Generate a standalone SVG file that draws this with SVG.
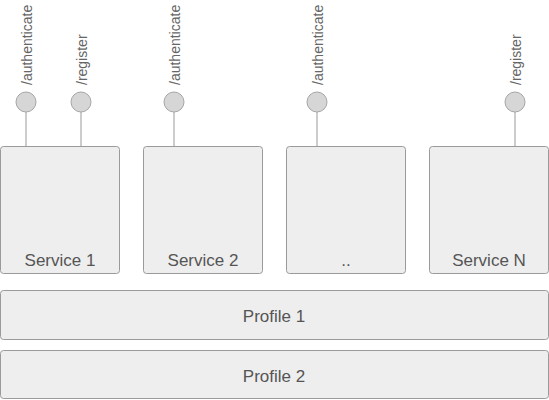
<svg xmlns="http://www.w3.org/2000/svg" width="549" height="400" viewBox="0 0 549 400">
<style>
.box{fill:#eeeeee;stroke:#9a9a9a;stroke-width:1}
.lbl{font-family:"Liberation Sans",Arial,sans-serif;font-size:17px;fill:#555555;text-anchor:middle}
.ep{font-family:"Liberation Sans",Arial,sans-serif;font-size:14px;fill:#666666}
.port{fill:#d6d6d6;stroke:#a6a6a6;stroke-width:1}
.conn{stroke:#999999;stroke-width:1;fill:none}
</style>
<rect width="549" height="400" fill="#ffffff"/>
<g id="connectors">
<line class="conn" x1="26" y1="112" x2="26" y2="146"/>
<line class="conn" x1="81" y1="112" x2="81" y2="146"/>
<line class="conn" x1="174" y1="112" x2="174" y2="146"/>
<line class="conn" x1="317" y1="112" x2="317" y2="146"/>
<line class="conn" x1="515" y1="112" x2="515" y2="146"/>
</g>
<g id="service1">
<rect class="box" x="0.5" y="146.5" width="119" height="127" rx="3"/>
<text class="lbl" x="60" y="266">Service 1</text>
</g>
<g id="service2">
<rect class="box" x="143.5" y="146.5" width="119" height="127" rx="3"/>
<text class="lbl" x="203" y="266">Service 2</text>
</g>
<g id="service3">
<rect class="box" x="286.5" y="146.5" width="119" height="127" rx="3"/>
<text class="lbl" x="346" y="266">..</text>
</g>
<g id="serviceN">
<rect class="box" x="429.5" y="146.5" width="119" height="127" rx="3"/>
<text class="lbl" x="489" y="266">Service N</text>
</g>
<g id="profile1">
<rect class="box" x="0.5" y="290.5" width="548" height="49" rx="3"/>
<text class="lbl" x="274" y="322">Profile 1</text>
</g>
<g id="profile2">
<rect class="box" x="0.5" y="350.5" width="548" height="48" rx="3"/>
<text class="lbl" x="274" y="382">Profile 2</text>
</g>
<g id="ep1">
<circle class="port" cx="26" cy="102" r="10"/>
<text class="ep" transform="translate(32,85) rotate(-90)">/authenticate</text>
</g>
<g id="ep2">
<circle class="port" cx="81" cy="102" r="10"/>
<text class="ep" transform="translate(87,85) rotate(-90)">/register</text>
</g>
<g id="ep3">
<circle class="port" cx="174" cy="102" r="10"/>
<text class="ep" transform="translate(180,85) rotate(-90)">/authenticate</text>
</g>
<g id="ep4">
<circle class="port" cx="317" cy="102" r="10"/>
<text class="ep" transform="translate(323,85) rotate(-90)">/authenticate</text>
</g>
<g id="ep5">
<circle class="port" cx="515" cy="102" r="10"/>
<text class="ep" transform="translate(521,85) rotate(-90)">/register</text>
</g>
</svg>
